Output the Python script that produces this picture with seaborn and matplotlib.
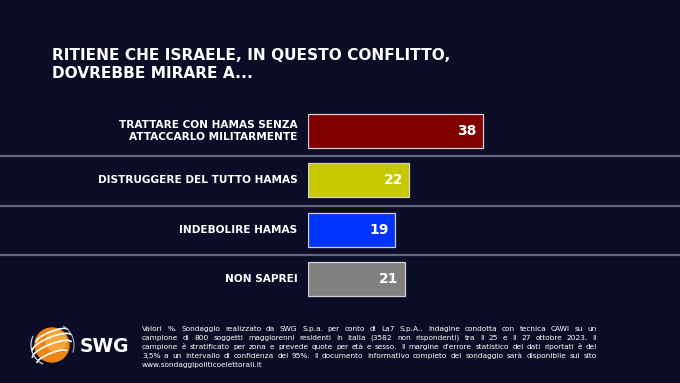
import matplotlib
matplotlib.use("Agg")
import matplotlib.pyplot as plt
import seaborn as sns
import pandas as pd
from matplotlib.patches import Circle, Arc

title_lines = ["RITIENE CHE ISRAELE, IN QUESTO CONFLITTO,", "DOVREBBE MIRARE A..."]
categories = ["TRATTARE CON HAMAS SENZA\nATTACCARLO MILITARMENTE",
              "DISTRUGGERE DEL TUTTO HAMAS",
              "INDEBOLIRE HAMAS",
              "NON SAPREI"]
values = [38, 22, 19, 21]
colors = ["#800000", "#c8c800", "#0033ff", "#808080"]
footer_lines = [
    "Valori %. Sondaggio realizzato da SWG S.p.a. per conto di La7 S.p.A.. Indagine condotta con tecnica CAWI su un",
    "campione di 800 soggetti maggiorenni residenti in Italia (3582 non rispondenti) tra il 25 e il 27 ottobre 2023. Il",
    "campione è stratificato per zona e prevede quote per età e sesso. Il margine d’errore statistico dei dati riportati è del",
    "3,5% a un intervallo di confidenza del 95%. Il documento informativo completo del sondaggio sarà disponibile sul sito",
    "www.sondaggipoliticoelettorali.it",
]

W, H = 680, 383
bg = "#0b0d26"
sns.set_theme(style="white")
plt.rcParams["font.family"] = ["DejaVu Sans"]

fig = plt.figure(figsize=(6.8, 3.83), dpi=100)
fig.patch.set_facecolor(bg)

# overlay axes in pixel coordinates
ov = fig.add_axes([0, 0, 1, 1])
ov.set_xlim(0, W)
ov.set_ylim(H, 0)
ov.axis("off")
ov.patch.set_alpha(0)

# separators (full width)
for ysep in [155.5, 205.5, 254.5]:
    ov.plot([0, W], [ysep, ysep], color="#62657e", lw=1.6, solid_capstyle="butt")

# bar axes
ax = fig.add_axes([308 / W, 1 - 304 / H, (640 - 308) / W, 198 / H])
ax.patch.set_alpha(0)
df = pd.DataFrame({"cat": categories, "val": values})
sns.barplot(data=df, x="val", y="cat", hue="cat", palette=colors, order=categories,
            hue_order=categories, width=0.68, edgecolor="#d9cfcf", linewidth=0.9,
            legend=False, ax=ax, saturation=1)
ax.set_xlim(0, 332 / 4.6)
ax.set_ylim(3.5, -0.5)
ax.axis("off")

for i, (c, v) in enumerate(zip(categories, values)):
    ax.annotate(c, xy=(0, i), xytext=(-7.5, 0), textcoords="offset points",
                ha="right", va="center", multialignment="right", color="white",
                fontsize=7.6, fontweight="bold", linespacing=1.3)
    ax.annotate(str(v), xy=(v, i), xytext=(-4.5, 0), textcoords="offset points",
                ha="right", va="center", color="white", fontsize=10, fontweight="bold")

# title
for k, t in enumerate(title_lines):
    ov.text(52, 55 + k * 18, t, color="white", fontsize=11.1, fontweight="bold",
            ha="left", va="center")

# logo
cx, cy = 52, 345
ov.add_patch(Circle((cx, cy), 17, color="#ee8416", zorder=3))
ov.add_patch(Circle((cx + 4, cy - 4), 10, color="#f7a53c", zorder=3))
for dy, w, h in [(-9, 34, 9), (-2, 42, 12), (5, 42, 12), (12, 32, 8)]:
    ov.add_patch(Arc((cx, cy + dy), w, h, angle=-22, theta1=180, theta2=360,
                     color="white", lw=1.2, zorder=4))
ov.add_patch(Arc((cx, cy), 42, 42, angle=0, theta1=115, theta2=205, color="#d0d0d0", lw=0.9, zorder=4))
ov.add_patch(Arc((cx, cy), 44, 44, angle=0, theta1=-60, theta2=20, color="#b0b0b0", lw=0.8, zorder=4))
ov.text(80, 347, "SWG", color="white", fontsize=13.5, fontweight="bold", ha="left", va="center")

# footer, justified
fig.canvas.draw()
renderer = fig.canvas.get_renderer()
x0, x1 = 142, 597
fs = 5.35
for k, line in enumerate(footer_lines):
    y = 329 + k * 9
    if k == len(footer_lines) - 1:
        ov.text(x0, y, line, color="white", fontsize=fs, ha="left", va="center")
        continue
    words = line.split(" ")
    arts = [ov.text(0, y, w, color="white", fontsize=fs, ha="left", va="center") for w in words]
    widths = [a.get_window_extent(renderer).width for a in arts]
    gap = (x1 - x0 - sum(widths)) / (len(words) - 1)
    x = x0
    for a, wdt in zip(arts, widths):
        a.set_x(x)
        x += wdt + gap

fig.savefig("out.png", dpi=100, facecolor=bg)
